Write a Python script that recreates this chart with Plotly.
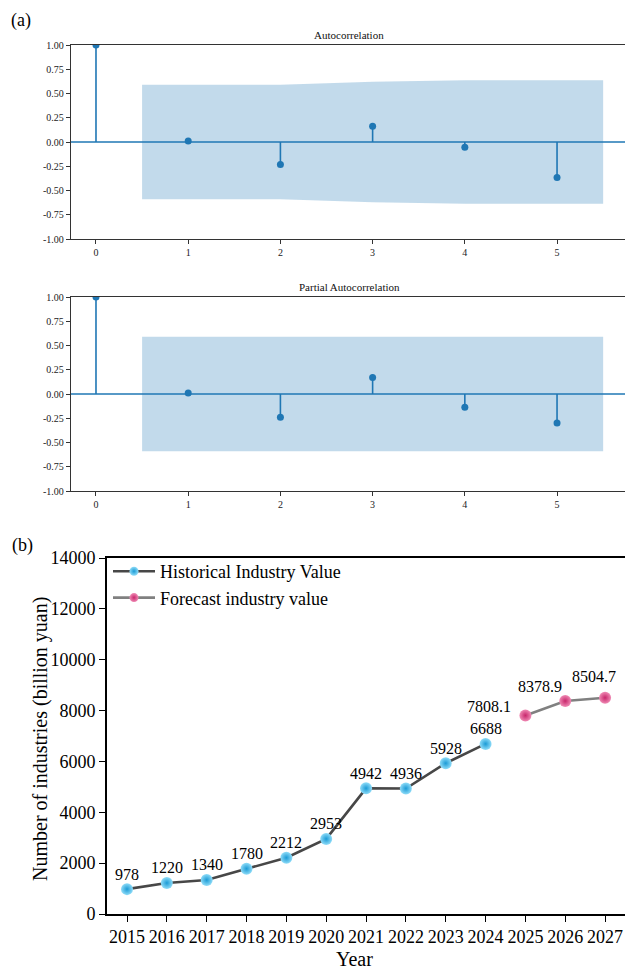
import plotly.graph_objects as go

# ---------------- data ----------------
lags = [0, 1, 2, 3, 4, 5]
acf_vals = [1.0, 0.01, -0.232, 0.163, -0.055, -0.367]
pacf_vals = [1.0, 0.01, -0.240, 0.170, -0.137, -0.300]
# confidence band (upper half-width) at lags 1..5
acf_conf = [0.591, 0.591, 0.622, 0.636, 0.637]
pacf_conf = [0.591, 0.591, 0.591, 0.591, 0.591]
band_lags = [0.5, 2, 3, 4, 5.5]
corr_ticks = [-1, -0.75, -0.5, -0.25, 0, 0.25, 0.5, 0.75, 1]

hist_years = [2015, 2016, 2017, 2018, 2019, 2020, 2021, 2022, 2023, 2024]
hist_vals = [978, 1220, 1340, 1780, 2212, 2953, 4942, 4936, 5928, 6688]
fc_years = [2025, 2026, 2027]
fc_vals = [7808.1, 8378.9, 8504.7]
value_ticks = [0, 2000, 4000, 6000, 8000, 10000, 12000, 14000]

W, H = 625, 972
SERIF = "Liberation Serif, Times New Roman, serif"
C0 = "#1f77b4"

fig = go.Figure()


def corr_panel(vals, conf, xa, ya):
    # shaded confidence band
    bx = band_lags + band_lags[::-1]
    by = conf + [-c for c in conf[::-1]]
    fig.add_trace(go.Scatter(x=bx, y=by, fill="toself", mode="lines",
                             line=dict(width=0), fillcolor="rgba(31,119,180,0.27)",
                             hoverinfo="skip", showlegend=False, xaxis=xa, yaxis=ya))
    # stems
    sx, sy = [], []
    for l, v in zip(lags, vals):
        sx += [l, l, None]
        sy += [0, v, None]
    fig.add_trace(go.Scatter(x=sx, y=sy, mode="lines", line=dict(color=C0, width=1.6),
                             showlegend=False, xaxis=xa, yaxis=ya))
    fig.add_trace(go.Scatter(x=lags, y=vals, mode="markers",
                             marker=dict(color=C0, size=7),
                             showlegend=False, xaxis=xa, yaxis=ya))


corr_panel(acf_vals, acf_conf, "x", "y")
corr_panel(pacf_vals, pacf_conf, "x2", "y2")

# ---------------- industry value panel ----------------
fig.add_trace(go.Scatter(x=hist_years, y=hist_vals, mode="lines+markers",
                         line=dict(color="#474747", width=2.6),
                         marker=dict(size=12, color="#8fdcf8",
                                     gradient=dict(type="radial", color="#1b9bd6"),
                                     line=dict(width=0)),
                         showlegend=False, xaxis="x3", yaxis="y3"))
fig.add_trace(go.Scatter(x=fc_years, y=fc_vals, mode="lines+markers",
                         line=dict(color="#808080", width=2.6),
                         marker=dict(size=12, color="#ef8ab4",
                                     gradient=dict(type="radial", color="#c8276c"),
                                     line=dict(width=0)),
                         showlegend=False, xaxis="x3", yaxis="y3"))
# legend entries
fig.add_trace(go.Scatter(x=[None], y=[None], mode="lines+markers", name="Historical Industry Value",
                         line=dict(color="#474747", width=2.6),
                         marker=dict(size=9, color="#8fdcf8",
                                     gradient=dict(type="radial", color="#1b9bd6")),
                         xaxis="x3", yaxis="y3"))
fig.add_trace(go.Scatter(x=[None], y=[None], mode="lines+markers", name="Forecast industry value",
                         line=dict(color="#808080", width=2.6),
                         marker=dict(size=9, color="#ef8ab4",
                                     gradient=dict(type="radial", color="#c8276c")),
                         xaxis="x3", yaxis="y3"))

annotations = []
for yr, v in zip(hist_years, hist_vals):
    annotations.append(dict(x=yr, y=v, xref="x3", yref="y3", text=f"{v:g}", showarrow=False,
                            xanchor="center", yanchor="middle", yshift=15,
                            font=dict(family=SERIF, size=16, color="black")))
fc_shift = [(-36, 9), (-25, 14), (-11, 21)]
for (yr, v), (dx, dy) in zip(zip(fc_years, fc_vals), fc_shift):
    annotations.append(dict(x=yr, y=v, xref="x3", yref="y3", text=f"{v:.1f}", showarrow=False,
                            xanchor="center", yanchor="middle", xshift=dx, yshift=dy,
                            font=dict(family=SERIF, size=16, color="black")))


def paper_text(x, y, text, size, color="black", angle=0):
    return dict(x=x / W, y=1 - y / H, xref="paper", yref="paper", text=text,
                xanchor="center", yanchor="middle", textangle=angle, showarrow=False,
                font=dict(family=SERIF, size=size, color=color))


# titles and panel tags
annotations += [
    paper_text(349, 35, "Autocorrelation", 11, "#111"),
    paper_text(349, 287, "Partial Autocorrelation", 11, "#111"),
    paper_text(21, 20, "(a)", 18),
    paper_text(22, 545, "(b)", 18),
    paper_text(355, 959, "Year", 20),
    paper_text(40, 739, "Number of industries (billion yuan)", 20, angle=-90),
]

shapes = [
    dict(type="line", xref="x domain", yref="y", x0=0, x1=1, y0=0, y1=0, line=dict(color=C0, width=1.6)),
    dict(type="line", xref="x2 domain", yref="y2", x0=0, x1=1, y0=0, y1=0, line=dict(color=C0, width=1.6)),
]

small_ax = dict(showgrid=False, zeroline=False, showline=True, linecolor="#333", linewidth=1.3,
                ticks="outside", ticklen=4, tickwidth=1, tickcolor="#333", automargin=False,
                tickfont=dict(family=SERIF, size=10, color="#222"))
xa_small = dict(small_ax, range=[-0.271, 5.737], tickvals=lags, mirror=True)
ya_small = dict(small_ax, range=[-1, 1], tickvals=corr_ticks,
                ticktext=[f"{t:.2f}" for t in corr_ticks])

big_ax = dict(showgrid=False, zeroline=False, showline=True, linecolor="black", linewidth=1.6,
              ticks="outside", ticklen=6, tickwidth=1.4, tickcolor="black", automargin=False,
              tickfont=dict(family=SERIF, size=18, color="black"))

fig.update_layout(
    width=W, height=H, margin=dict(l=0, r=0, t=0, b=0, pad=0, autoexpand=False),
    paper_bgcolor="white", plot_bgcolor="white",
    xaxis=dict(xa_small, domain=[71 / W, 1], anchor="y"),
    yaxis=dict(ya_small, domain=[1 - 239 / H, 1 - 45 / H], anchor="x"),
    xaxis2=dict(xa_small, domain=[71 / W, 1], anchor="y2"),
    yaxis2=dict(ya_small, domain=[1 - 491 / H, 1 - 297 / H], anchor="x2"),
    xaxis3=dict(big_ax, domain=[107 / W, 1], anchor="y3", range=[2014.498, 2027.5],
                tickvals=hist_years + fc_years, mirror=True),
    yaxis3=dict(big_ax, domain=[1 - 914 / H, 1 - 558 / H], anchor="x3", range=[0, 14000],
                tickvals=value_ticks, ticktext=[str(t) for t in value_ticks]),
    legend=dict(x=108 / W, y=1 - 553 / H, xanchor="left", yanchor="top",
                bgcolor="rgba(0,0,0,0)", font=dict(family=SERIF, size=18, color="black"),
                itemwidth=42, tracegroupgap=0),
    annotations=annotations, shapes=shapes,
    font=dict(family=SERIF),
)

fig.write_html("out.html")
